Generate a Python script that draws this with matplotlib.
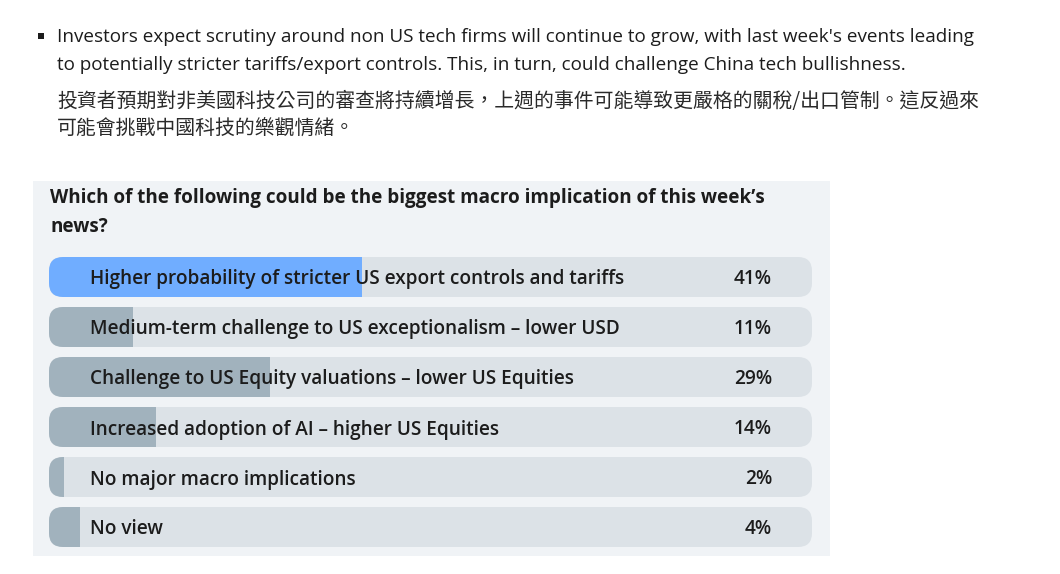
import matplotlib.pyplot as plt
from matplotlib.patches import FancyBboxPatch, Rectangle

# poll data
options = [
    "Higher probability of stricter US export controls and tariffs",
    "Medium-term challenge to US exceptionalism \u2013 lower USD",
    "Challenge to US Equity valuations \u2013 lower US Equities",
    "Increased adoption of AI \u2013 higher US Equities",
    "No major macro implications",
    "No view",
]
votes_pct = [41, 11, 29, 14, 2, 4]

question = "Which of the following could be the biggest macro implication of this week\u2019s\nnews?"
bullet_en = ["Investors expect scrutiny around non US tech firms will continue to grow, with last week's events leading",
             "to potentially stricter tariffs/export controls. This, in turn, could challenge China tech bullishness."]
bullet_zh = ["投資者預期對非美國科技公司的審查將持續增長，上週的事件可能導致更嚴格的關稅/出口管制。這反過來",
             "可能會挑戰中國科技的樂觀情緒。"]

plt.rcParams['font.family'] = ['Open Sans', 'Noto Sans CJK TC', 'DejaVu Sans']
text_col = '#1c1c1c'
blue = '#70adff'
grey_fill = '#a1b2bd'
track_col = '#dce2e7'
panel_col = '#f0f3f6'

W, H = 1060, 574
fig = plt.figure(figsize=(W / 100, H / 100), dpi=100)
fig.patch.set_facecolor('white')

# background axes in pixel coords
bg = fig.add_axes([0, 0, 1, 1])
bg.set_xlim(0, W)
bg.set_ylim(H, 0)
bg.axis('off')

bg.add_patch(Rectangle((33, 181), 797, 375, color=panel_col, lw=0))
bg.add_patch(Rectangle((38, 33), 6, 6, color=text_col, lw=0))

for i, line in enumerate(bullet_en):
    bg.text(57, 42 + 28 * i, line, fontsize=13.6, color=text_col, va='baseline')
for i, line in enumerate(bullet_zh):
    bg.text(57, 101 + 28 * i, line, fontsize=14.3, color='#2a2a2a', va='center',
            family=['Noto Sans CJK TC', 'DejaVu Sans'])

qlines = question.split('\n')
for i, line in enumerate(qlines):
    bg.text(50, 203 + 29 * i, line, fontsize=13.6, fontweight='bold', color=text_col, va='baseline')

# bar axes
x0, x1 = 49, 812
top, bot = 252, 552
ax = fig.add_axes([x0 / W, (H - bot) / H, (x1 - x0) / W, (bot - top) / H])
ax.set_xlim(0, 100)
ax.set_ylim(len(options) - 0.5, -0.5)
ax.axis('off')

px_per_x = (x1 - x0) / 100
px_per_y = (bot - top) / len(options)
r_x = 14 / px_per_x
aspect = (14 / px_per_y) / r_x
bar_h = 40 / px_per_y
base_off = 7.5 / px_per_y

for i, (label, pct) in enumerate(zip(options, votes_pct)):
    track = FancyBboxPatch((0, i - bar_h / 2), 100, bar_h,
                           boxstyle=f"round,pad=0,rounding_size={r_x}",
                           mutation_aspect=aspect, color=track_col, lw=0)
    ax.add_patch(track)
    fill = ax.barh(i, pct, height=bar_h, left=0,
                   color=blue if i == 0 else grey_fill, lw=0)
    for b in fill:
        b.set_clip_path(track)
    ax.text((90 - x0) / (x1 - x0), i + base_off, label, transform=ax.get_yaxis_transform(),
            fontsize=13.7, fontweight='semibold', color=text_col, va='baseline')
    ax.text((772 - x0) / (x1 - x0), i + base_off, f"{pct}%", transform=ax.get_yaxis_transform(),
            fontsize=13.7, fontweight='semibold', color=text_col, va='baseline', ha='right')

fig.savefig('out.png', dpi=100)
